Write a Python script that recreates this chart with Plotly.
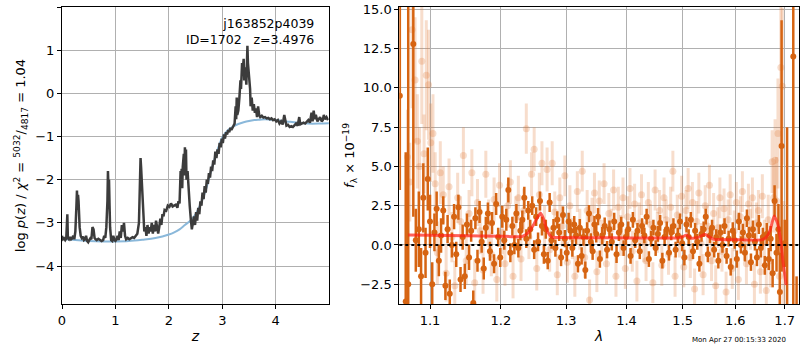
import plotly.graph_objects as go
from plotly.subplots import make_subplots

# ---------------- left panel: p(z) ----------------
pz_z = [0.00,0.02,0.04,0.06,0.08,0.10,0.11,0.13,0.15,0.17,0.19,0.21,0.23,0.25,0.27,0.28,0.29,0.30,0.31,0.32,
        0.33,0.35,0.37,0.39,0.41,0.43,0.45,0.47,0.49,0.51,0.53,0.55,0.57,0.59,0.61,0.63,0.65,0.68,0.71,0.74,
        0.77,0.79,0.81,0.83,0.85,0.86,0.87,0.88,0.89,0.90,0.92,0.94,0.96,0.98,1.00,1.02,1.04,1.06,1.08,1.10,
        1.12,1.14,1.16,1.18,1.20,1.23,1.26,1.29,1.32,1.35,1.38,1.41,1.44,1.46,1.47,1.48,1.49,1.50,1.51,1.52,
        1.54,1.56,1.58,1.60,1.62,1.64,1.66,1.68,1.70,1.72,1.74,1.76,1.78,1.80,1.82,1.84,1.86,1.88,1.90,1.92,
        1.95,1.98,2.01,2.04,2.07,2.10,2.13,2.16,2.18,2.20,2.22,2.23,2.24,2.25,2.26,2.28,2.29,2.30,2.31,2.32,
        2.33,2.35,2.37,2.39,2.41,2.43,2.45,2.47,2.49,2.51,2.53,2.55,2.57,2.59,2.61,2.63,2.65,2.67,2.69,2.71,
        2.73,2.75,2.77,2.79,2.81,2.83,2.85,2.87,2.89,2.91,2.93,2.95,2.97,2.99,3.01,3.03,3.05,3.07,3.09,3.11,
        3.13,3.15,3.17,3.19,3.21,3.23,3.25,3.26,3.27,3.28,3.30,3.32,3.34,3.35,3.37,3.38,3.40,3.41,3.43,3.45,
        3.47,3.48,3.50,3.52,3.53,3.55,3.57,3.59,3.61,3.63,3.65,3.67,3.69,3.71,3.74,3.77,3.80,3.83,3.86,3.89,
        3.92,3.95,3.98,4.01,4.04,4.07,4.10,4.13,4.16,4.18,4.20,4.23,4.26,4.29,4.32,4.35,4.38,4.41,4.44,4.46,
        4.49,4.52,4.55,4.58,4.61,4.64,4.67,4.69,4.71,4.73,4.75,4.78,4.80,4.83,4.86,4.88,4.90,4.92,4.95,4.98]
pz_logp = [-3.30,-3.38,-3.36,-3.40,-3.36,-2.80,-3.35,-3.38,-3.33,-3.38,-3.36,-3.30,-3.38,-3.20,-2.60,-2.25,-2.70,-2.35,-2.50,-2.90,
           -3.10,-3.30,-3.35,-3.32,-3.40,-3.38,-3.30,-3.42,-3.45,-3.40,-3.36,-3.38,-3.10,-3.15,-3.35,-3.38,-3.40,-3.37,-3.40,-3.42,
           -3.40,-3.30,-3.35,-3.10,-2.50,-1.80,-2.20,-2.00,-2.60,-3.10,-3.40,-3.42,-3.30,-3.40,-3.42,-3.38,-3.30,-3.40,-3.20,-3.35,
           -3.05,-3.20,-3.00,-3.30,-3.38,-3.35,-3.38,-3.36,-3.33,-3.35,-3.30,-3.25,-3.00,-2.30,-1.50,-1.70,-2.00,-1.90,-2.40,-2.70,
           -3.20,-3.10,-3.30,-3.05,-3.25,-3.10,-3.20,-3.00,-3.25,-3.05,-3.20,-2.95,-3.15,-3.25,-3.10,-2.90,-3.05,-2.80,-2.85,-2.70,
           -2.72,-2.60,-2.63,-2.55,-2.62,-2.60,-2.58,-2.65,-2.50,-2.55,-1.80,-2.00,-1.75,-2.20,-1.70,-1.40,-1.90,-1.25,-1.60,-1.30,
           -2.00,-1.80,-2.40,-2.60,-2.90,-3.15,-3.00,-2.85,-3.05,-2.75,-2.95,-2.65,-2.80,-2.50,-2.60,-2.30,-2.45,-2.15,-2.30,-2.00,
           -2.10,-1.85,-1.95,-1.70,-1.80,-1.55,-1.65,-1.35,-1.50,-1.30,-1.40,-1.15,-1.25,-1.05,-1.15,-0.95,-1.05,-0.90,-0.95,-0.85,
           -0.90,-0.80,-0.85,-0.78,-0.75,-0.70,-0.30,-0.60,-0.10,-0.50,-0.40,-0.10,0.30,0.10,0.70,0.50,0.80,0.30,0.60,0.20,
           1.10,0.70,0.40,0.10,-0.30,-0.10,-0.40,-0.25,-0.45,-0.35,-0.55,-0.30,-0.50,-0.55,-0.52,-0.56,-0.55,-0.58,-0.57,-0.60,
           -0.58,-0.62,-0.60,-0.65,-0.62,-0.70,-0.65,-0.72,-0.50,-0.68,-0.75,-0.73,-0.78,-0.76,-0.78,-0.74,-0.70,-0.75,-0.55,-0.72,
           -0.70,-0.68,-0.70,-0.66,-0.62,-0.68,-0.45,-0.65,-0.40,-0.60,-0.50,-0.65,-0.60,-0.55,-0.65,-0.62,-0.50,-0.60,-0.55,-0.62]

prior_z = [0,0.25,0.5,0.75,1.0,1.25,1.5,1.75,2.0,2.1,2.2,2.3,2.4,2.5,2.6,2.7,2.8,2.9,3.0,3.1,3.2,3.3,3.4,3.5,
           3.6,3.7,3.8,3.9,4.0,4.2,4.4,4.6,4.8,5.0]
prior_logp = [-3.37,-3.40,-3.42,-3.43,-3.43,-3.42,-3.39,-3.35,-3.27,-3.22,-3.15,-3.05,-2.95,-2.80,-2.55,-2.20,-1.75,
              -1.35,-1.02,-0.86,-0.77,-0.71,-0.67,-0.64,-0.62,-0.61,-0.60,-0.61,-0.62,-0.65,-0.68,-0.70,-0.70,-0.69]

# ---------------- right panel: spectrum ----------------
good_lam = [1.060,1.0677,1.071,1.0777,
            1.081,1.085,1.088,1.091,1.094,1.097,1.100,1.103,1.106,1.109,1.112,1.115,1.118,1.121,1.124,1.127,
            1.130,1.133,1.136,1.139,1.142,1.145,1.148,1.151,1.154,1.157,1.160,1.163,1.166,1.169,1.172,1.175,
            1.178,1.181,1.184,1.187,1.190,1.193,1.196,1.199,1.202,1.205,1.208,1.211,1.214,1.217,1.220,1.223,
            1.226,1.229,1.232,1.235,1.238,1.241,1.244,1.247,1.250,1.253,1.256,1.259,1.262,1.265,1.268,1.271,
            1.274,1.277,1.280,1.283,1.286,1.289,1.292,1.295,1.298,1.301,1.304,1.307,1.310,1.313,1.316,1.319,
            1.322,1.325,1.328,1.331,1.334,1.337,1.340,1.343,1.346,1.349,1.352,1.355,1.359,1.363,1.367,1.371,
            1.375,1.379,1.383,1.387,1.391,1.395,1.399,1.403,1.407,1.411,1.415,1.419,1.423,1.427,1.431,1.435,
            1.439,1.443,1.447,1.451,1.455,1.459,1.463,1.467,1.471,1.475,1.479,1.483,1.487,1.491,1.495,1.499,
            1.503,1.507,1.511,1.515,1.519,1.523,1.527,1.531,1.535,1.539,1.543,1.547,1.551,1.555,1.559,1.563,
            1.567,1.571,1.575,1.579,1.583,1.587,1.591,1.595,1.599,1.603,1.607,1.611,1.615,1.619,1.623,1.627,
            1.631,1.635,1.639,1.643,1.647,1.651,1.655,1.659,1.663,1.667,1.671,1.675,1.679,1.683,1.687,1.690,
            1.6935,1.700,1.705,1.718,1.725]
good_flux = [9.5,-3.6,-2.5,12.8,
             0.3,1.0,-2.0,3.0,-0.5,4.2,1.5,-2.5,0.8,2.3,-1.0,0.6,2.2,-2.6,1.0,-3.1,
             0.0,1.8,-0.6,2.4,-2.2,0.5,-2.0,1.3,-0.8,0.9,-3.7,1.7,-1.0,2.1,0.2,-1.5,
             1.1,2.0,-0.4,1.4,-1.2,2.6,0.5,-0.8,1.8,0.3,1.6,3.5,-0.5,1.2,0.0,2.0,
             -0.2,0.9,1.6,3.0,0.4,2.2,1.0,2.5,-0.3,1.8,0.2,2.8,1.2,-0.6,1.0,-1.0,
             2.7,0.3,1.1,-0.2,1.6,0.8,-0.8,1.9,0.4,-0.5,1.5,0.9,-0.2,1.3,0.6,-1.2,
             1.1,-0.7,0.5,-1.6,0.9,2.0,0.2,-0.4,1.3,0.7,1.8,-0.9,0.6,1.2,-0.3,1.0,
             0.2,1.5,-0.6,0.8,1.3,-0.2,0.5,1.0,-0.7,1.6,0.3,0.9,-0.4,1.2,0.6,1.8,
             -0.9,0.4,1.1,-0.2,0.7,1.4,-1.0,0.5,1.0,-0.5,0.8,1.2,-0.3,0.6,1.5,0.1,
             -0.8,1.3,0.5,1.6,-0.4,0.9,0.2,-1.2,0.7,1.0,1.8,-0.6,0.6,1.1,-0.3,0.5,
             -1.0,0.8,0.0,1.2,-0.7,0.4,-1.4,0.9,0.3,-0.9,1.5,0.0,0.8,-0.5,1.7,0.6,
             -1.1,1.0,0.2,-0.8,1.3,-0.2,0.5,-1.3,0.7,-0.9,0.4,-1.8,2.8,-0.5,1.0,-3.0,
             6.3,0.1,-4.5,12.0,-5.0]
good_err = [6.0,9.5,18.0,11.0,
            2.0,2.4,1.8,2.2,1.6,2.0,1.7,1.4,1.2,1.1,1.0,1.1,0.9,0.9,0.9,0.9,
            0.8,0.8,0.8,0.8,0.8,0.8,0.8,0.7,0.8,0.7,0.8,0.7,0.7,0.7,0.7,0.7,
            0.7,0.7,0.6,0.7,0.6,0.7,0.6,0.6,0.7,0.6,0.7,0.8,0.6,0.6,0.6,0.6,
            0.6,0.6,0.6,0.7,0.6,0.6,0.6,0.6,0.6,0.6,0.6,0.6,0.6,0.6,0.6,0.55,
            0.6,0.55,0.55,0.55,0.55,0.55,0.55,0.55,0.55,0.55,0.55,0.55,0.55,0.55,0.55,0.55,
            0.55,0.55,0.55,0.55,0.55,0.55,0.55,0.55,0.55,0.55,0.55,0.55,0.55,0.55,0.55,0.55,
            0.55,0.55,0.55,0.55,0.5,0.5,0.5,0.5,0.5,0.5,0.5,0.5,0.5,0.5,0.5,0.5,
            0.5,0.5,0.5,0.5,0.5,0.5,0.5,0.5,0.5,0.5,0.5,0.5,0.5,0.5,0.5,0.5,
            0.5,0.5,0.5,0.5,0.5,0.5,0.5,0.5,0.5,0.5,0.5,0.5,0.5,0.5,0.5,0.5,
            0.5,0.5,0.5,0.5,0.5,0.5,0.55,0.55,0.55,0.55,0.55,0.55,0.55,0.55,0.55,0.55,
            0.55,0.55,0.55,0.55,0.6,0.6,0.6,0.6,0.7,0.7,0.8,0.9,1.0,1.2,1.6,2.5,
            8.0,1.5,12.0,30.0,3.0]

bad_lam = [1.070,1.073,1.076,1.080,1.083,1.086,1.089,1.092,1.095,1.098,1.101,1.104,1.107,1.110,1.114,1.118,
           1.122,1.126,1.130,1.134,1.138,1.142,1.146,1.150,1.154,1.158,1.162,1.166,1.170,1.174,1.178,1.182,
           1.186,1.190,1.194,1.198,1.202,1.206,1.210,1.214,1.218,1.222,1.226,1.230,1.234,1.238,1.242,1.246,
           1.250,1.254,1.258,1.262,1.266,1.270,1.274,1.278,1.282,1.286,1.290,1.294,1.298,1.302,1.306,1.310,
           1.314,1.318,1.322,1.326,1.330,1.334,1.338,1.342,1.346,1.350,1.354,1.358,1.362,1.366,1.370,1.374,
           1.378,1.382,1.386,1.390,1.394,1.398,1.402,1.406,1.410,1.414,1.418,1.422,1.426,1.430,1.434,1.438,
           1.442,1.446,1.450,1.454,1.458,1.462,1.466,1.470,1.474,1.478,1.482,1.486,1.490,1.494,1.498,1.502,
           1.506,1.510,1.514,1.518,1.522,1.526,1.530,1.534,1.538,1.542,1.546,1.550,1.554,1.558,1.562,1.566,
           1.570,1.574,1.578,1.582,1.586,1.590,1.594,1.598,1.602,1.606,1.610,1.614,1.618,1.622,1.626,1.630,
           1.634,1.638,1.642,1.646,1.650,1.654,1.658,1.662,1.666,1.670,1.674,1.677,1.680,1.683,1.686,1.689,
           1.692,1.695,1.698]
bad_flux = [5.6,4.0,13.7,10.5,6.6,5.0,11.7,5.8,10.8,10.2,6.5,7.1,3.9,-0.5,4.6,3.2,
            -1.8,3.7,0.5,-2.6,3.0,1.5,5.7,-1.0,2.0,4.6,-2.4,2.7,0.9,-1.6,4.5,1.4,
            -0.6,2.9,-2.2,3.8,0.8,-1.2,2.5,4.0,-2.0,1.7,3.0,-0.9,2.2,7.4,0.5,4.5,
            6.1,-1.5,3.2,5.2,1.1,4.8,-0.3,5.2,2.1,-1.9,3.0,1.2,4.4,-1.1,2.5,0.4,
            -2.0,3.4,1.0,4.7,-0.8,2.2,-3.5,1.7,3.3,-1.7,2.8,0.3,3.9,-1.2,2.0,1.0,
            3.5,-2.0,2.4,0.6,3.0,-1.5,1.8,3.6,-0.4,2.6,-2.3,1.4,3.2,0.2,-1.0,2.7,
            1.3,-2.4,3.5,0.8,2.2,-1.3,3.0,1.6,-0.6,2.4,4.7,-2.0,1.9,0.5,3.1,-1.4,
            2.2,3.6,-0.8,2.7,-2.8,1.5,3.3,0.1,-1.9,2.5,1.2,3.8,-1.0,2.0,-2.6,1.1,
            3.0,-0.4,2.3,-3.0,1.6,3.2,-1.5,0.9,2.7,-2.2,1.8,3.4,0.3,-1.2,2.6,1.0,
            3.0,-2.5,1.4,2.2,-1.7,3.1,0.2,-2.9,1.6,-1.0,5.3,3.0,5.4,2.8,7.1,-2.0,
            11.3,10.1,-1.2]
bad_err = [3.0,2.5,5.0,4.0,3.0,2.5,4.0,2.5,3.5,3.5,2.5,2.5,2.0,2.0,2.0,1.8,
           1.8,1.8,1.6,1.6,1.6,1.6,1.8,1.5,1.5,1.5,1.5,1.5,1.5,1.5,1.5,1.5,
           1.4,1.4,1.4,1.4,1.4,1.4,1.4,1.4,1.4,1.4,1.4,1.4,1.4,1.6,1.4,1.4,
           1.4,1.4,1.4,1.4,1.4,1.4,1.4,1.4,1.3,1.3,1.3,1.3,1.3,1.3,1.3,1.3,
           1.3,1.3,1.3,1.3,1.3,1.3,1.3,1.3,1.3,1.3,1.3,1.3,1.3,1.3,1.3,1.3,
           1.3,1.3,1.3,1.3,1.3,1.3,1.3,1.3,1.3,1.3,1.3,1.3,1.3,1.3,1.3,1.3,
           1.3,1.3,1.3,1.3,1.3,1.3,1.3,1.3,1.3,1.3,1.3,1.3,1.3,1.3,1.3,1.3,
           1.3,1.3,1.3,1.3,1.3,1.3,1.3,1.3,1.3,1.3,1.3,1.3,1.3,1.3,1.3,1.3,
           1.3,1.3,1.3,1.3,1.3,1.3,1.3,1.3,1.3,1.3,1.3,1.3,1.3,1.3,1.3,1.3,
           1.3,1.3,1.3,1.3,1.4,1.4,1.4,1.5,1.6,1.7,2.0,2.2,2.6,2.8,3.5,3.2,
           5.0,5.0,4.0]

model_lam = [1.071,1.100,1.150,1.200,1.231,1.240,1.250,1.255,1.260,1.265,1.270,1.277,1.290,1.350,1.400,
             1.450,1.488,1.500,1.507,1.512,1.517,1.530,1.541,1.548,1.558,1.600,1.652,1.662,1.670,1.678,
             1.685,1.692,1.697,1.703]
model_flux = [0.64,0.62,0.59,0.56,0.53,0.75,1.35,1.75,2.02,1.60,0.90,0.49,0.47,0.46,0.45,
              0.44,0.44,0.52,0.64,0.50,0.43,0.50,0.68,0.55,0.36,0.33,0.32,0.50,0.95,1.85,
              1.40,0.20,-1.20,-2.55]

ORANGE = "rgb(214,100,18)"
ORANGE_L = "rgba(224,120,50,0.25)"
FONT = "DejaVu Sans"

fig = make_subplots(rows=1, cols=2, horizontal_spacing=0.0)

fig.add_trace(go.Scatter(x=prior_z, y=prior_logp, mode="lines", line=dict(color="rgb(138,184,218)", width=2, shape="spline"),
                         showlegend=False), row=1, col=1)
fig.add_trace(go.Scatter(x=pz_z, y=pz_logp, mode="lines", line=dict(color="rgb(60,60,60)", width=2.5),
                         showlegend=False), row=1, col=1)

fig.add_trace(go.Scatter(x=bad_lam, y=bad_flux, mode="markers",
                         marker=dict(color=ORANGE_L, size=7),
                         error_y=dict(type="data", array=bad_err, color=ORANGE_L, thickness=3, width=0),
                         showlegend=False), row=1, col=2)
fig.add_trace(go.Scatter(x=good_lam, y=good_flux, mode="markers",
                         marker=dict(color=ORANGE, size=6),
                         error_y=dict(type="data", array=good_err, color=ORANGE, thickness=2.5, width=0),
                         showlegend=False), row=1, col=2)
fig.add_trace(go.Scatter(x=model_lam, y=model_flux, mode="lines",
                         line=dict(color="rgba(255,30,20,0.7)", width=3, shape="spline", smoothing=0.4),
                         showlegend=False), row=1, col=2)
fig.add_hline(y=0, line=dict(color="black", width=2, dash="dot"), row=1, col=2)

axis_common = dict(showline=True, linecolor="black", linewidth=1, mirror=True, ticks="outside", ticklen=4,
                   tickcolor="black", showgrid=True, gridcolor="#b0b0b0", gridwidth=1, zeroline=False,
                   automargin=False, tickfont=dict(family=FONT, size=13, color="black"))

fig.update_xaxes(axis_common)
fig.update_yaxes(axis_common)

fig.update_layout(
    width=800, height=350, margin=dict(l=62, r=1, t=7, b=46),
    plot_bgcolor="white", paper_bgcolor="white",
    font=dict(family=FONT, size=13, color="black"),
    xaxis=dict(domain=[0, 0.362], range=[0, 4.993], tickvals=[0, 1, 2, 3, 4],
               title=dict(text="<i>z</i>", font=dict(size=14), standoff=4)),
    yaxis=dict(range=[-4.88, 2.0], tickvals=[-4, -3, -2, -1, 0, 1, 2],
               ticktext=["\u22124", "\u22123", "\u22122", "\u22121", "0", "1", "2"],
               title=dict(text="log <i>p</i>(<i>z</i>) / <i>\u03c7</i><sup>2</sup> = <sup>5032</sup>/<sub>4817</sub> = 1.04",
                          font=dict(size=13), standoff=6)),
    xaxis2=dict(domain=[0.4577, 1.0], type="log", range=[0.02504, 0.23807],
                tickvals=[1.1, 1.2, 1.3, 1.4, 1.5, 1.6, 1.7], ticktext=["1.1", "1.2", "1.3", "1.4", "1.5", "1.6", "1.7"],
                title=dict(text="<i>\u03bb</i>", font=dict(size=14), standoff=4)),
    yaxis2=dict(range=[-3.76, 15.15], tickvals=[-2.5, 0, 2.5, 5, 7.5, 10, 12.5, 15],
                ticktext=["\u22122.5", "0.0", "2.5", "5.0", "7.5", "10.0", "12.5", "15.0"],
                title=dict(text="<i>f</i><sub>\u03bb</sub> \u00d7 10<sup>\u221219</sup>", font=dict(size=13), standoff=2)),
)

fig.add_annotation(xref="x", yref="paper", x=4.75, y=0.975, text="j163852p4039<br>ID=1702   z=3.4976",
                   showarrow=False, xanchor="right", yanchor="top", align="right",
                   font=dict(family=FONT, size=12.5, color="black"))
fig.add_annotation(xref="paper", yref="paper", x=1.0, y=-0.121, text="Mon Apr 27 00:15:33 2020",
                   showarrow=False, xanchor="right", yanchor="middle", xshift=-11,
                   font=dict(family=FONT, size=7, color="black"))

fig.write_html("out.html", config={"displayModeBar": False},
               post_script="document.body.style.margin='0';document.body.style.padding='0';")
